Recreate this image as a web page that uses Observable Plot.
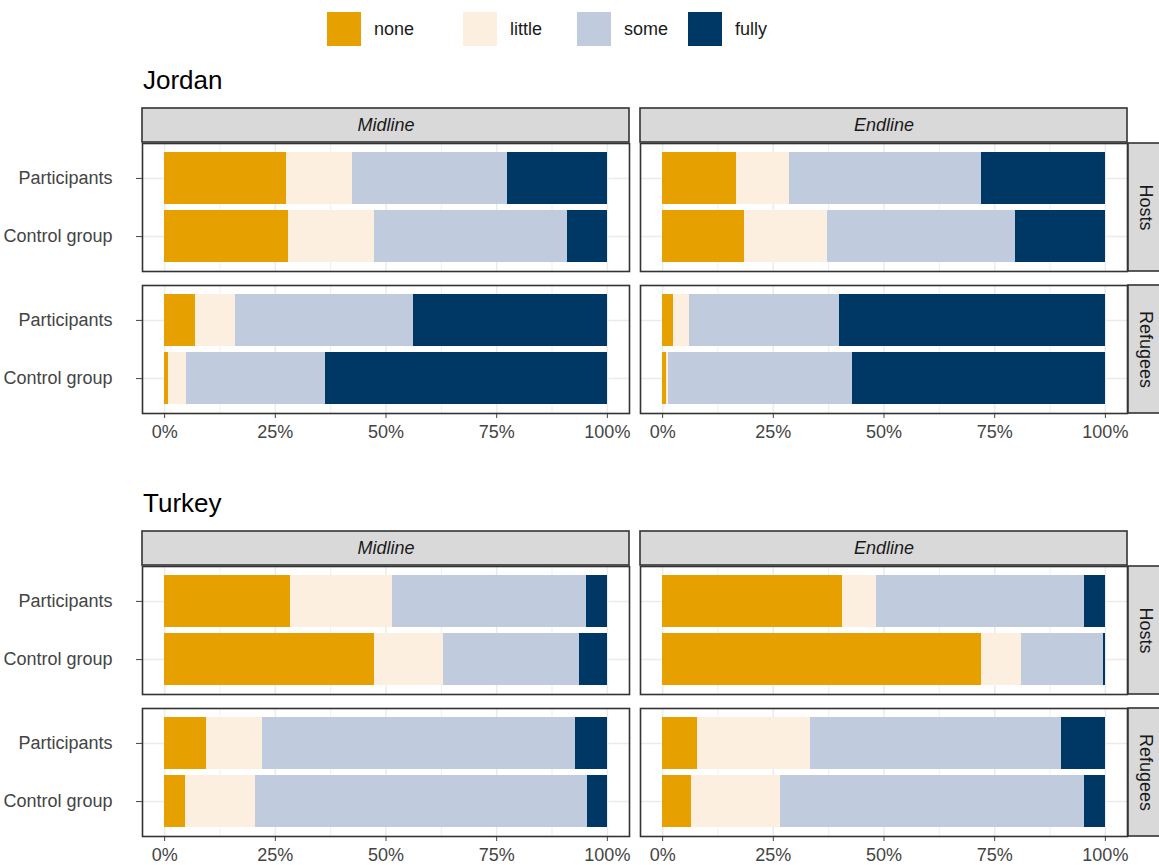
<!DOCTYPE html>
<html>
<head>
<meta charset="utf-8">
<script src="https://cdn.jsdelivr.net/npm/d3@7"></script>
<script src="https://cdn.jsdelivr.net/npm/@observablehq/plot@0.6"></script>
<style>
  html, body { margin: 0; padding: 0; background: #fff; }
  body { position: relative; width: 1159px; height: 865px; overflow: hidden;
         font-family: "Liberation Sans", Arial, sans-serif; }
  .title { position: absolute; left: 143px; font-size: 26px; line-height: 26px; color: #000; }
  .chart { position: absolute; left: 0; }
  #legend { position: absolute; left: 327px; top: 12px; font-size: 18px; color: #1a1a1a; }
  #legend .lg-swatches { margin: 0; min-height: 0; font-family: "Liberation Sans", Arial, sans-serif; font-size: 18px; }
  #legend .lg-swatch { margin-right: 0; }
  #legend .lg-swatch > svg { margin-right: 13px; }
  #legend .lg-swatch:nth-of-type(1) { width: 136px; }
  #legend .lg-swatch:nth-of-type(2) { width: 114px; }
  #legend .lg-swatch:nth-of-type(3) { width: 111px; }
</style>
</head>
<body>
<div id="legend"></div>
<div class="title" style="top:67px">Jordan</div>
<div class="chart" id="jordan" style="top:107px"></div>
<div class="title" style="top:490px">Turkey</div>
<div class="chart" id="turkey" style="top:530px"></div>
<script>
// ---- data (percent shares) ----
const levels = ["none", "little", "some", "fully"];
const levelColors = ["#E6A100", "#FCEFDF", "#C0CCDE", "#003865"];
const phases = ["Midline", "Endline"];
const groups = ["Hosts", "Refugees"];
const arms = ["Participants", "Control group"];
const xTicks = [0, 25, 50, 75, 100];
const xMinor = [12.5, 37.5, 62.5, 87.5];

// rows: Hosts·Participants, Hosts·Control group, Refugees·Participants, Refugees·Control group
// columns: none, little, some, fully
const jordanMidline = [
  [27.5, 14.9, 35.1, 22.5],
  [28.0, 19.5, 43.6, 8.9],
  [7.0, 9.1, 40.1, 43.8],
  [0.9, 4.1, 31.3, 63.7]
];
const jordanEndline = [
  [16.7, 12.0, 43.4, 27.9],
  [18.4, 18.9, 42.5, 20.2],
  [2.4, 3.6, 34.0, 60.0],
  [0.8, 0.5, 41.6, 57.1]
];
const turkeyMidline = [
  [28.4, 23.1, 43.9, 4.6],
  [47.4, 15.5, 30.9, 6.2],
  [9.5, 12.7, 70.7, 7.1],
  [4.6, 16.0, 74.9, 4.5]
];
const turkeyEndline = [
  [40.6, 7.6, 47.2, 4.6],
  [72.1, 9.0, 18.5, 0.4],
  [7.8, 25.5, 56.7, 10.0],
  [6.5, 20.1, 68.8, 4.6]
];

const FONT = '"Liberation Sans", Arial, sans-serif';

function toRows(phase, matrix) {
  const rows = [];
  matrix.forEach((vals, i) => {
    const group = groups[Math.floor(i / 2)];
    const arm = arms[i % 2];
    vals.forEach((v, j) => rows.push({phase, group, arm, level: levels[j], value: v}));
  });
  return rows;
}

const topStrips = phases.map(p => ({phase: p, group: groups[0]}));
const rightStrips = groups.map(g => ({phase: phases[phases.length - 1], group: g}));

function chart(midline, endline) {
  const rows = [...toRows("Midline", midline), ...toRows("Endline", endline)];
  return Plot.plot({
    width: 1159,
    height: 346,
    marginTop: 36,
    marginBottom: 40,
    marginLeft: 142,
    marginRight: 32,
    style: {fontFamily: FONT, fontSize: "18px", color: "#444444", background: "transparent", overflow: "visible"},
    fx: {domain: phases, paddingInner: 11 / 498, paddingOuter: 0, round: false, axis: null, label: null},
    fy: {domain: groups, paddingInner: 14 / 142, paddingOuter: 0, round: false, axis: null, label: null},
    x: {domain: [-5, 105], ticks: xTicks, tickFormat: d => d + "%", tickSize: 5, tickPadding: 7, label: null},
    y: {domain: arms, paddingInner: 0.1, paddingOuter: 0.15, round: false, tickSize: 6, tickPadding: 24, label: null},
    color: {domain: levels, range: levelColors},
    marks: [
      Plot.ruleX(xMinor, {stroke: "#ebebeb", strokeWidth: 0.8}),
      Plot.ruleX(xTicks, {stroke: "#ebebeb", strokeWidth: 1.5}),
      Plot.ruleY(arms, {y: d => d, stroke: "#ebebeb", strokeWidth: 1.5}),
      Plot.barX(rows, {fx: "phase", fy: "group", y: "arm", x: "value", fill: "level", order: levels, shapeRendering: "crispEdges"}),
      Plot.frame({stroke: "#333333", strokeWidth: 1.6}),
      Plot.barX(topStrips, {fx: "phase", fy: "group", x1: -5, x2: 105, insetTop: -35, insetBottom: 129,
        fill: "#d9d9d9", stroke: "#333333", strokeWidth: 1.6}),
      Plot.text(topStrips, {fx: "phase", fy: "group", text: "phase", frameAnchor: "top", dy: -18,
        textAnchor: "middle", lineAnchor: "middle", fontStyle: "italic", fontSize: 18, fill: "#1a1a1a"}),
      Plot.barX(rightStrips, {fx: "phase", fy: "group", x1: 105, x2: 105, insetLeft: 1, insetRight: -36,
        fill: "#d9d9d9", stroke: "#333333", strokeWidth: 1.6}),
      Plot.text(rightStrips, {fx: "phase", fy: "group", text: "group", frameAnchor: "right", dx: 18.5, rotate: 90,
        textAnchor: "middle", lineAnchor: "middle", fontSize: 18, fill: "#1a1a1a"})
    ]
  });
}

document.getElementById("legend").appendChild(
  Plot.legend({
    color: {domain: levels, range: levelColors, type: "ordinal"},
    legend: "swatches",
    swatchSize: 34,
    className: "lg",
    style: {fontFamily: FONT, fontSize: "18px", color: "#1a1a1a"}
  })
);
document.getElementById("jordan").appendChild(chart(jordanMidline, jordanEndline));
document.getElementById("turkey").appendChild(chart(turkeyMidline, turkeyEndline));
</script>
</body>
</html>
